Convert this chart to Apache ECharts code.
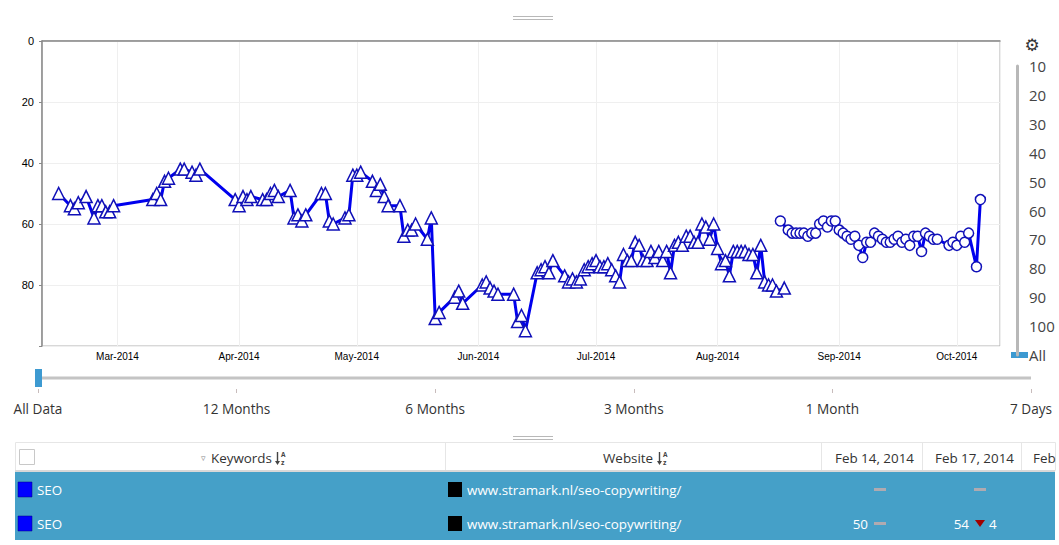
<!DOCTYPE html>
<html><head><meta charset="utf-8">
<script src="https://cdn.jsdelivr.net/npm/echarts@6/dist/echarts.min.js"></script>
<style>html,body{margin:0;padding:0;background:#fff;}#c{width:1059px;height:545px;}</style>
</head><body><div id="c"></div>
<script>
// ---- data ----
const triDates = ['2014-02-14','2014-02-17','2014-02-18','2014-02-19','2014-02-21','2014-02-23','2014-02-24','2014-02-25','2014-02-26','2014-02-27','2014-02-28',
'2014-03-10','2014-03-11','2014-03-12','2014-03-13','2014-03-14','2014-03-17','2014-03-18','2014-03-20','2014-03-21','2014-03-22',
'2014-03-31','2014-04-01','2014-04-02','2014-04-03','2014-04-04','2014-04-07','2014-04-08','2014-04-09','2014-04-10','2014-04-11',
'2014-04-14','2014-04-15','2014-04-16','2014-04-17','2014-04-18','2014-04-22','2014-04-23','2014-04-24','2014-04-25','2014-04-28','2014-04-29','2014-04-30',
'2014-05-01','2014-05-02','2014-05-05','2014-05-06','2014-05-07','2014-05-08','2014-05-09','2014-05-12','2014-05-13','2014-05-14','2014-05-15','2014-05-16',
'2014-05-19','2014-05-20','2014-05-21','2014-05-22','2014-05-26','2014-05-27','2014-05-28',
'2014-06-02','2014-06-03','2014-06-04','2014-06-05','2014-06-06','2014-06-10','2014-06-11','2014-06-12','2014-06-13',
'2014-06-16','2014-06-17','2014-06-18','2014-06-19','2014-06-20','2014-06-23','2014-06-24','2014-06-25','2014-06-26','2014-06-27','2014-06-28','2014-06-29','2014-06-30',
'2014-07-01','2014-07-02','2014-07-03','2014-07-04','2014-07-05','2014-07-06','2014-07-07','2014-07-08','2014-07-09','2014-07-10','2014-07-11','2014-07-12',
'2014-07-13','2014-07-14','2014-07-15','2014-07-16','2014-07-17','2014-07-18','2014-07-19','2014-07-20','2014-07-21','2014-07-22','2014-07-23','2014-07-24',
'2014-07-25','2014-07-26','2014-07-27','2014-07-28','2014-07-29','2014-07-30','2014-07-31',
'2014-08-01','2014-08-02','2014-08-03','2014-08-04','2014-08-05','2014-08-06','2014-08-07','2014-08-08','2014-08-09','2014-08-10','2014-08-11','2014-08-12',
'2014-08-13','2014-08-14','2014-08-15','2014-08-16','2014-08-18'];
const triRanks = [50,54,55,53,51,58,54,54,56,56,54,
52,50,52,46,45,42,42,43,44,42,
52,54,51,52,51,52,52,50,49,51,
49,58,57,59,57,50,50,59,60,58,57,44,
44,43,46,49,47,51,54,54,64,62,62,60,
65,58,91,89,84,82,86,
80,79,81,82,83,83,92,90,95,
76,75,74,76,72,77,79,78,79,78,75,74,73,
72,74,74,73,75,77,79,70,72,72,66,67,
72,72,69,71,69,72,69,76,67,66,67,64,
64,66,66,60,61,65,60,
68,73,72,77,69,69,69,69,70,70,76,67,
79,80,80,82,81];
const cirDates = ['2014-08-17','2014-08-19','2014-08-20','2014-08-21','2014-08-22','2014-08-23','2014-08-24','2014-08-25','2014-08-26','2014-08-27','2014-08-28',
'2014-08-29','2014-08-30','2014-08-31','2014-09-01','2014-09-02','2014-09-03','2014-09-04','2014-09-05','2014-09-06','2014-09-07','2014-09-08',
'2014-09-09','2014-09-10','2014-09-11','2014-09-12','2014-09-13','2014-09-14','2014-09-15','2014-09-16','2014-09-17','2014-09-18','2014-09-19',
'2014-09-20','2014-09-21','2014-09-22','2014-09-23','2014-09-24','2014-09-25','2014-09-26','2014-09-29','2014-09-30','2014-10-01','2014-10-02',
'2014-10-03','2014-10-04','2014-10-06','2014-10-07'];
const cirRanks = [59,62,63,63,63,63,64,63,63,60,59,
61,59,59,62,63,64,65,64,67,71,66,
66,63,64,65,66,66,65,64,66,65,67,
64,64,69,63,64,65,65,67,66,67,64,
66,63,74,52];
const monthNames = ['Jan','Feb','Mar','Apr','May','Jun','Jul','Aug','Sep','Oct','Nov','Dec'];
const rankTicks = [10,20,30,40,50,60,70,80,90,100,110];
const rankAllLabel = 'All';
const rangeLabels = ['All Data','12 Months','6 Months','3 Months','1 Month','7 Days'];
const keywordName = 'SEO';
const websiteName = 'www.stramark.nl/seo-copywriting/';
const headerCols = ['Keywords','Website'];

// ---- chart ----
const chart = echarts.init(document.getElementById('c'), null, {renderer:'svg'});
const DAY = 86400000;
const xMin = new Date(2014,1,9,18).getTime();
const xMax = new Date(2014,9,12,0).getTime();
const BLUE = '#0000ee';
const FONT = 'Open Sans';
const TFS = 13.4;

function fmtDate(s){const p=s.split('-');return monthNames[+p[1]-1]+' '+(+p[2])+', '+p[0];}
const d0 = triRanks[0], d1 = triRanks[1];

const txt = (x,y,text,o)=>Object.assign({type:'text',silent:true,style:Object.assign({x,y,text,fill:'#333',fontSize:TFS,fontFamily:FONT,textVerticalAlign:'middle'},o||{})});
const rect=(x,y,w,h,fill,extra)=>({type:'rect',silent:true,shape:{x,y,width:w,height:h},style:Object.assign({fill},extra||{})});
const line=(x1,y1,x2,y2,stroke,lw)=>({type:'line',silent:true,shape:{x1,y1,x2,y2},style:{stroke,lineWidth:lw||1}});
const sortIcon=(x,y)=>[
  line(x+2.5,y-6,x+2.5,y+5,'#444',1.4),
  {type:'polygon',silent:true,shape:{points:[[x,y+3],[x+5,y+3],[x+2.5,y+7]]},style:{fill:'#444'}},
  txt(x+6,y-4,'A',{fontSize:6.5,fill:'#444',fontWeight:'bold'}),
  txt(x+6,y+4,'z',{fontSize:7,fill:'#444',fontWeight:'bold'})
];

const graphics = [
  // grab handles
  line(513,16.5,553,16.5,'#b8b8b8',1), line(513,19.5,553,19.5,'#b8b8b8',1),
  line(513,436.5,553,436.5,'#b8b8b8',1), line(513,439.5,553,439.5,'#b8b8b8',1),
  // gear
  txt(1032,45,'\u2699',{fontSize:17,fill:'#333',textAlign:'center',fontFamily:'DejaVu Sans'}),
  // right scale handle
  rect(1011,352,17,6,'#3d9ad1'),
  // range slider
  line(40,378,1031,378,'#c4c4c4',3),
  rect(35,369,7,18,'#3d9ad1'),
  // table header
  rect(15.5,442.5,1040,28,'#fff',{stroke:'#e6e6e6',lineWidth:1}),
  line(445.5,442,445.5,471,'#e6e6e6',1), line(821.5,442,821.5,471,'#e6e6e6',1),
  line(922.5,442,922.5,471,'#e6e6e6',1), line(1021.5,442,1021.5,471,'#e6e6e6',1),
  rect(19.5,449.5,15,15,'#fff',{stroke:'#c8c8c8',lineWidth:1}),
  txt(203,457,'\u25BF',{fontSize:9,fill:'#888',textAlign:'center'}),
  txt(211,458,headerCols[0])
].concat(sortIcon(275,458), [
  txt(603,458,headerCols[1])
], sortIcon(657,458), [
  txt(914,458,fmtDate(triDates[0]),{textAlign:'right'}),
  txt(1014,458,fmtDate(triDates[1]),{textAlign:'right'}),
  txt(1033,458,fmtDate(triDates[2]).split(' ')[0]),
  line(15,471,1055,471,'#d8d8d8',2),
  // rows
  rect(15,472,1040,68,'#45a0c8'),
  rect(18,482,14,15,'#0000ff',{stroke:'#000080',lineWidth:0.5}), txt(37,489.5,keywordName,{fill:'#fff'}),
  rect(448,482,14,15,'#000'), txt(467,489.5,websiteName,{fill:'#fff'}),
  rect(874,488,12,3,'#b0aab0'), rect(974,488,12,3,'#b0aab0'),
  rect(18,516,14,15,'#0000ff',{stroke:'#000080',lineWidth:0.5}), txt(37,523.5,keywordName,{fill:'#fff'}),
  rect(448,516,14,15,'#000'), txt(467,523.5,websiteName,{fill:'#fff'}),
  txt(868,523.5,String(d0),{fill:'#fff',textAlign:'right'}), rect(874,522,12,3,'#b0aab0'),
  txt(969,523.5,String(d1),{fill:'#fff',textAlign:'right'}),
  {type:'polygon',silent:true,shape:{points:[[975,520],[985,520],[980,527]]},style:{fill:'#a00000'}},
  txt(989,523.5,String(Math.abs(d1-d0)),{fill:'#fff'})
]);

const option = {
  animation:false,
  backgroundColor:'#fff',
  grid:[
    {left:42,right:59,top:41,height:305,show:true,borderColor:'#b0b0b0',borderWidth:1,containLabel:false},
    {left:1017,top:66,width:1,height:289},
    {left:38,width:993,top:388,height:1}
  ],
  xAxis:[
    {type:'time',gridIndex:0,min:xMin,max:xMax,minInterval:28*DAY,maxInterval:31*DAY,
     axisLine:{show:true,lineStyle:{color:'#888',width:1.5}},axisTick:{show:false},
     splitLine:{show:true,lineStyle:{color:'#efefef',width:1}},
     axisLabel:{showMinLabel:false,showMaxLabel:false,fontSize:10,color:'#000',fontFamily:'Liberation Sans',margin:5,
       formatter:function(v){const d=new Date(v);return monthNames[d.getMonth()]+'-'+d.getFullYear();}}},
    {type:'value',gridIndex:1,show:false},
    {type:'category',gridIndex:2,data:rangeLabels,boundaryGap:false,position:'bottom',
     axisLine:{show:false},axisTick:{show:true,length:4,lineStyle:{color:'#c8bcbc'}},
     axisLabel:{interval:0,fontSize:13.6,color:'#333',fontFamily:FONT,margin:12}}
  ],
  yAxis:[
    {type:'value',gridIndex:0,inverse:true,min:0,max:100,interval:20,
     axisLine:{show:true,lineStyle:{color:'#888',width:1.5}},axisTick:{show:true,length:3,lineStyle:{color:'#888'}},
     splitLine:{show:true,lineStyle:{color:'#efefef',width:1}},
     axisLabel:{fontSize:11,color:'#000',fontFamily:'Liberation Sans',margin:8,formatter:function(v){return v===100?'':String(v);}}},
    {type:'value',gridIndex:1,position:'right',inverse:true,min:rankTicks[0],max:rankTicks[rankTicks.length-1],interval:10,
     axisLine:{show:true,lineStyle:{color:'#b8b8b8',width:3}},axisTick:{show:false},splitLine:{show:false},
     axisLabel:{fontSize:15,color:'#444',fontFamily:FONT,margin:11,
       formatter:function(v){return v===rankTicks[rankTicks.length-1]?rankAllLabel:String(v);}}},
    {type:'value',gridIndex:2,show:false}
  ],
  series:[
    {type:'line',xAxisIndex:0,yAxisIndex:0,data:triDates.map((d,i)=>[d,triRanks[i]]),
     symbol:'triangle',symbolSize:12,showAllSymbol:true,
     lineStyle:{color:BLUE,width:3},itemStyle:{color:'#fff',borderColor:'#1010b8',borderWidth:1.5}},
    {type:'line',xAxisIndex:0,yAxisIndex:0,data:cirDates.map((d,i)=>[d,cirRanks[i]]),
     symbol:'circle',symbolSize:10,showAllSymbol:true,
     lineStyle:{color:BLUE,width:3},itemStyle:{color:'#fff',borderColor:'#1010b8',borderWidth:1.5}}
  ],
  graphic:graphics
};
chart.setOption(option);
</script></body></html>
